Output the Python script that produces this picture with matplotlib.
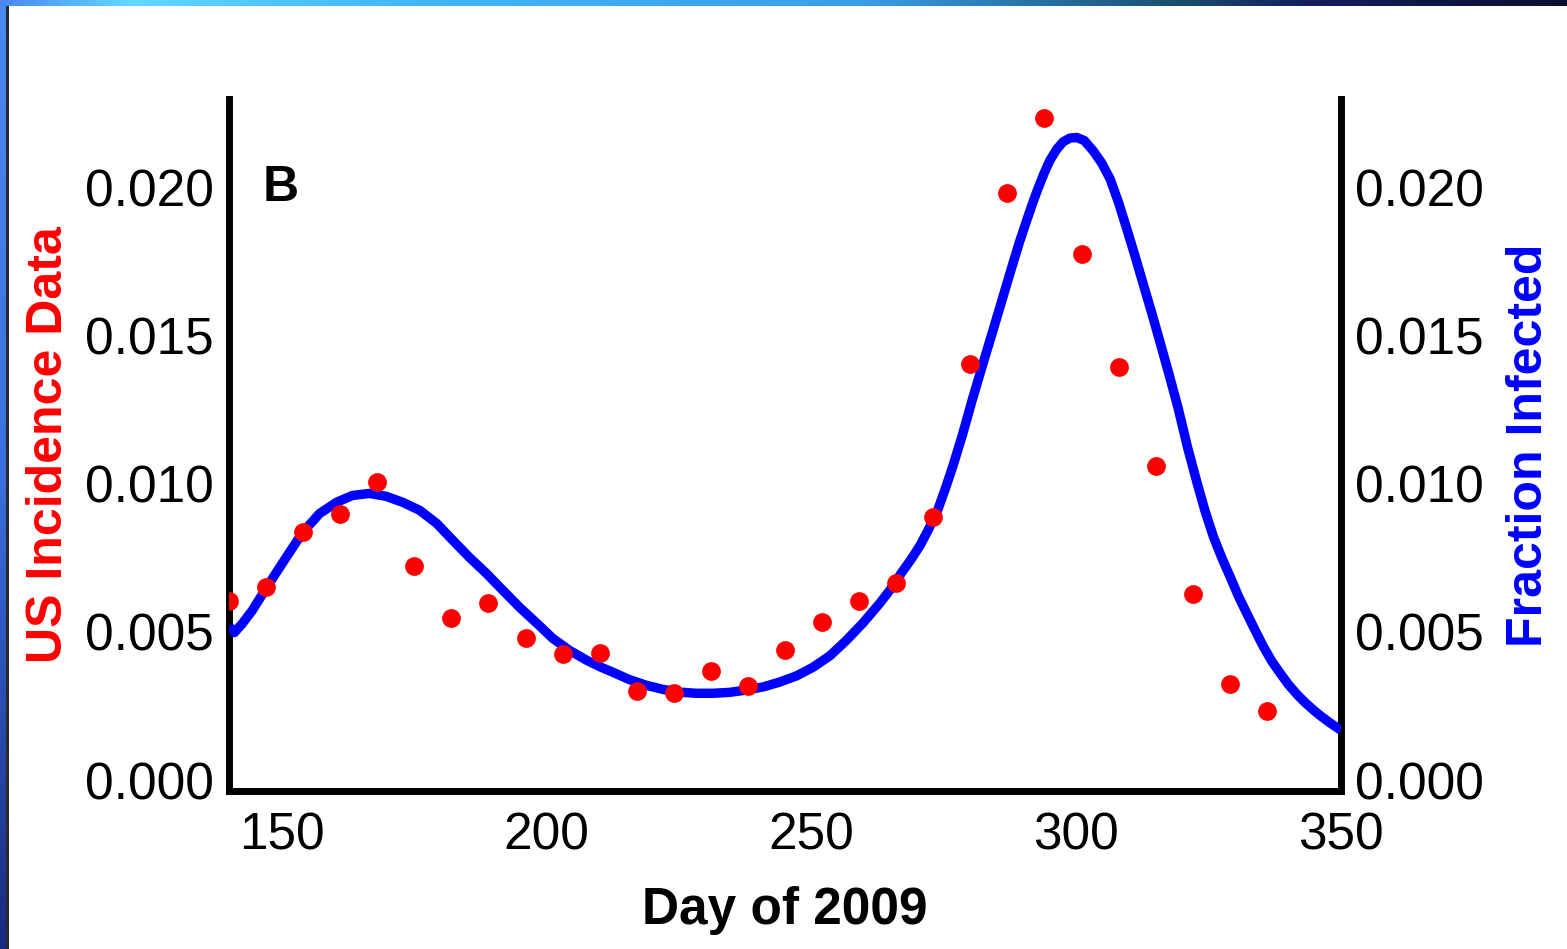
import numpy as np
import matplotlib
matplotlib.use("Agg")
import matplotlib.pyplot as plt
from matplotlib.colors import LinearSegmentedColormap

# ---- data ----
obs_days = [140, 147, 154, 161, 168, 175, 182, 189, 196, 203, 210, 217, 224, 231, 238,
            245, 252, 259, 266, 273, 280, 287, 294, 301, 308, 315, 322, 329, 336]
obs_incidence = [0.00604, 0.00651, 0.00836, 0.00900, 0.01005, 0.00722, 0.00546, 0.00597,
                 0.00479, 0.00425, 0.00428, 0.00300, 0.00293, 0.00368, 0.00317, 0.00438,
                 0.00533, 0.00604, 0.00664, 0.00887, 0.01406, 0.01983, 0.02236, 0.01777,
                 0.01396, 0.01062, 0.00627, 0.00324, 0.00233]

model_days = [140.0, 141.0, 142.5, 144.4, 147.6, 150.8, 153.9, 157.1, 160.3, 163.3, 166.5,
              169.7, 172.8, 176.0, 179.2, 182.3, 185.4, 188.6, 191.7, 194.9, 198.1, 201.1,
              204.3, 207.5, 210.0, 212.5, 215.5, 218.8, 222.0, 225.1, 228.2, 231.4, 234.5,
              237.7, 241.0, 244.0, 247.2, 250.3, 253.5, 256.6, 259.7, 262.9, 265.0, 267.0,
              268.8, 270.5, 272.2, 273.9, 275.3, 276.7, 278.5, 280.3, 282.2, 284.1, 286.0,
              287.8, 289.3, 290.7, 291.7, 292.7, 293.9, 295.0, 296.3, 297.5, 298.8, 300.1,
              301.5, 303.2, 304.8, 306.4, 308.0, 309.6, 311.1, 312.6, 314.3, 315.9, 317.6,
              319.3, 321.0, 322.8, 324.3, 325.9, 327.5, 329.1, 330.6, 332.2, 333.8, 335.3,
              336.9, 338.5, 340.1, 341.7, 343.2, 344.7, 346.2, 347.7, 349.0, 350.0]
model_fraction = [0.00520, 0.00498, 0.00528, 0.00573, 0.00664, 0.00752, 0.00836, 0.00900,
                  0.00938, 0.00961, 0.00968, 0.00958, 0.00938, 0.00911, 0.00867, 0.00809,
                  0.00752, 0.00698, 0.00641, 0.00583, 0.00530, 0.00479, 0.00438, 0.00405,
                  0.00383, 0.00364, 0.00340, 0.00320, 0.00306, 0.00297, 0.00293, 0.00293,
                  0.00296, 0.00304, 0.00315, 0.00331, 0.00352, 0.00381, 0.00420, 0.00472,
                  0.00530, 0.00597, 0.00646, 0.00700, 0.00745, 0.00792, 0.00850, 0.00915,
                  0.00985, 0.01060, 0.01165, 0.01280, 0.01395, 0.01508, 0.01622, 0.01730,
                  0.01818, 0.01893, 0.01945, 0.01994, 0.02048, 0.02092, 0.02130, 0.02155,
                  0.02168, 0.02170, 0.02160, 0.02125, 0.02084, 0.02030, 0.01950, 0.01858,
                  0.01770, 0.01678, 0.01575, 0.01474, 0.01365, 0.01252, 0.01125, 0.01005,
                  0.00910, 0.00822, 0.00750, 0.00685, 0.00622, 0.00563, 0.00505, 0.00452,
                  0.00402, 0.00361, 0.00322, 0.00289, 0.00262, 0.00238, 0.00216, 0.00196,
                  0.00180, 0.00168]

xticks = [150, 200, 250, 300, 350]
yticks = [0.000, 0.005, 0.010, 0.015, 0.020]
ytick_labels = ["0.000", "0.005", "0.010", "0.015", "0.020"]

FONT = ["Liberation Sans", "DejaVu Sans"]
plt.rcParams["font.family"] = FONT

W, H = 1567, 949
fig = plt.figure(figsize=(W / 100, H / 100), dpi=100)
fig.patch.set_facecolor("white")

# ---- slide frame decoration (top gradient strip + left strip) ----
deco = fig.add_axes([0, 0, 1, 1], zorder=-5)
deco.set_xlim(0, W)
deco.set_ylim(H, 0)
deco.axis("off")
top_cmap = LinearSegmentedColormap.from_list(
    "top", [(0.0, "#4a88f0"), (0.08, "#60d8ff"), (0.25, "#42b8f8"), (0.55, "#3a9ee8"),
            (0.75, "#1a5070"), (0.83, "#13205e"), (1.0, "#0a1030")])
grad = np.linspace(0, 1, 512)[None, :]
deco.imshow(grad, cmap=top_cmap, extent=[0, W, 6, 0], aspect="auto")
left_cmap = LinearSegmentedColormap.from_list("left", ["#4a8af0", "#3a70e0", "#1a2a80"])
deco.imshow(np.linspace(0, 1, 256)[:, None], cmap=left_cmap, extent=[0, 6, H, 6], aspect="auto")
deco.fill_between([6, 8.5], [6, 6], [H, H], color="#2a2a2a", lw=0)

# ---- main axes ----
ax = fig.add_axes([229 / W, 1 - 791 / H, (1341 - 229) / W, (791 - 99) / H])
ax.set_xlim(140, 350)
ax.set_ylim(-0.00037, 0.0230)

ax.plot(model_days, model_fraction, color="#0000ff", lw=6.8, solid_capstyle="butt",
        solid_joinstyle="round", zorder=3, clip_on=True)
ax.plot(obs_days, obs_incidence, "o", color="#ff0000", ms=13.5, mec="none", zorder=4,
        clip_on=True)

for s in ["left", "right", "bottom"]:
    ax.spines[s].set_linewidth(5)
    ax.spines[s].set_color("black")
ax.spines["top"].set_visible(False)

ax.set_xticks(xticks)
ax.set_xticklabels([str(t) for t in xticks])
ax.set_yticks(yticks)
ax.set_yticklabels(ytick_labels)
ax.tick_params(axis="both", length=0, labelsize=37, colors="black")
ax.tick_params(axis="y", pad=11)
ax.tick_params(axis="x", pad=15)

ax2 = ax.twinx()
ax2.set_ylim(ax.get_ylim())
ax2.set_yticks(yticks)
ax2.set_yticklabels(ytick_labels)
ax2.tick_params(axis="y", length=0, labelsize=37, pad=10)
for s in ["left", "right", "bottom", "top"]:
    ax2.spines[s].set_visible(False)

ax.set_xlabel("Day of 2009", fontsize=37, fontweight="bold", labelpad=18)
ax.set_ylabel("US Incidence Data", fontsize=36, fontweight="bold", color="#ff0000",
              labelpad=9)
ax2.set_ylabel("Fraction Infected", fontsize=36, fontweight="bold", color="#0000ff",
               labelpad=16)

ax.text(0.0306, 0.8716, "B", transform=ax.transAxes, fontsize=36, fontweight="bold",
        ha="left", va="center")

fig.savefig("out.png", dpi=100, facecolor="white")
